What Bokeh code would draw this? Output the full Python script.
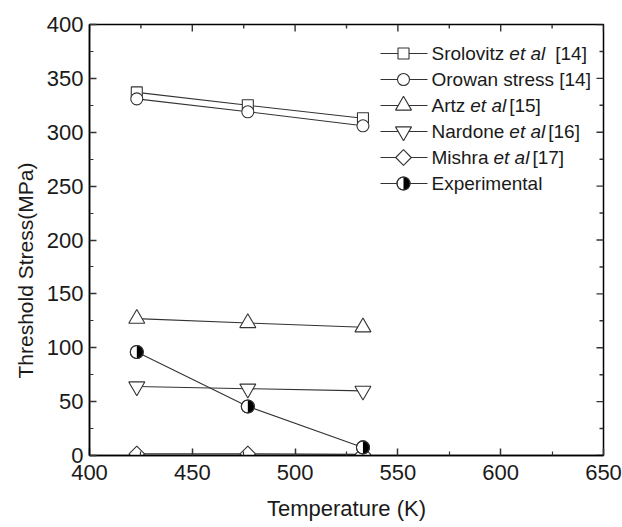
import math
from bokeh.plotting import figure
from bokeh.models import Range1d, Label, FixedTicker, Title
from bokeh.embed import file_html
from bokeh.resources import INLINE

# ---------------- data ----------------
temps = [423, 477, 533]
srolovitz = [337, 325, 313]
orowan = [331, 319, 306]
artz = [127, 123, 119]
nardone = [64, 62, 60]
mishra = [1.5, 1.5, 1.0]
experimental = [96, 45.5, 7.5]

x_ticks = [400, 450, 500, 550, 600, 650]
y_ticks = [0, 50, 100, 150, 200, 250, 300, 350, 400]

x_title = "Temperature (K)"
y_title = "Threshold Stress(MPa)"

# legend text: (segment, style, gap in px before the segment)
legend_rows = [
    [("Srolovitz", "normal", 0), ("et al", "italic", 5), ("[14]", "normal", 10)],
    [("Orowan stress [14]", "normal", 0)],
    [("Artz", "normal", 0), ("et al", "italic", 5), ("[15]", "normal", 3)],
    [("Nardone", "normal", 0), ("et al", "italic", 5), ("[16]", "normal", 3)],
    [("Mishra", "normal", 0), ("et al", "italic", 5), ("[17]", "normal", 3)],
    [("Experimental", "normal", 0)],
]

# ---------------- geometry ----------------
W, H = 622, 527
FL, FR, FT, FB = 89, 603, 24, 455
X0, X1, Y0, Y1 = x_ticks[0], x_ticks[-1], y_ticks[0], y_ticks[-1]
FONT = "Liberation Sans"
INK = "#1a1a1a"
LINE = "#333333"

def dx(px):
    return X0 + (px - FL) / (FR - FL) * (X1 - X0)

def dy(py):
    return Y0 + (FB - py) / (FB - FT) * (Y1 - Y0)

def minors(t):
    return [(a + b) / 2.0 for a, b in zip(t[:-1], t[1:])]

p = figure(width=W, height=H, output_backend="svg", toolbar_location=None,
           x_range=Range1d(X0, X1), y_range=Range1d(Y0, Y1),
           min_border_left=FL, min_border_right=W - FR,
           min_border_top=FT, min_border_bottom=H - FB)
p.grid.visible = False
p.outline_line_color = "black"
p.outline_line_width = 1.5
p.background_fill_color = "white"
p.border_fill_color = "white"

def style_axis(ax):
    ax.major_tick_in = 7
    ax.major_tick_out = 0
    ax.minor_tick_in = 4
    ax.minor_tick_out = 0
    ax.axis_line_color = "black"
    ax.axis_line_width = 1.5
    ax.major_tick_line_color = "#333333"
    ax.major_tick_line_width = 1.5
    ax.minor_tick_line_color = "#333333"
    ax.minor_tick_line_width = 1.2
    ax.major_label_text_font = FONT
    ax.major_label_text_font_size = "22px"
    ax.major_label_text_color = INK
    ax.axis_label_text_font = FONT
    ax.axis_label_text_font_style = "normal"
    ax.axis_label_text_color = INK

p.xaxis.ticker = FixedTicker(ticks=x_ticks, minor_ticks=minors(x_ticks))
p.yaxis.ticker = FixedTicker(ticks=y_ticks, minor_ticks=minors(y_ticks))
style_axis(p.xaxis[0])
style_axis(p.yaxis[0])
p.xaxis.major_label_standoff = 9
p.yaxis.major_label_standoff = 6
p.xaxis.axis_label = x_title
p.xaxis.axis_label_text_font_size = "22px"
p.xaxis.axis_label_standoff = 13

# y title as a side title, starting a little above the bottom of the frame
ytitle = Title(text=y_title, align="left", offset=77, text_font=FONT,
               text_font_size="21px", text_font_style="normal", text_color=INK,
               standoff=14)
p.add_layout(ytitle, "left")

# mirror ticks on top and right edges (inward)
tx = x_ticks + minors(x_ticks)
tl_x = [7 if t in x_ticks else 4 for t in tx]
p.segment(x0=tx, y0=[Y1] * len(tx), x1=tx, y1=[dy(FT + l) for l in tl_x],
          line_color="#333333", line_width=1.4)
ty = y_ticks + minors(y_ticks)
tl_y = [7 if t in y_ticks else 4 for t in ty]
p.segment(x0=[X1] * len(ty), y0=ty, x1=[dx(FR - l) for l in tl_y], y1=ty,
          line_color="#333333", line_width=1.4)

# ---------------- series ----------------
def open_series(ys, marker, size, angle=0.0):
    p.line(temps, ys, line_color=LINE, line_width=1.1)
    p.scatter(temps, ys, marker=marker, size=size, angle=angle,
              fill_color="white", line_color=LINE, line_width=1.1)

open_series(srolovitz, "square", 11)
open_series(orowan, "circle", 12)
open_series(artz, "triangle", 16)
open_series(nardone, "inverted_triangle", 16)
open_series(mishra, "square", 11, angle=math.pi / 4)

def half_circle(xs, ys, size):
    p.scatter(xs, ys, marker="circle", size=size, fill_color="white",
              line_color=LINE, line_width=1.1)
    p.wedge(xs, ys, radius=size / 2.0, radius_units="screen",
            start_angle=-math.pi / 2, end_angle=math.pi / 2,
            fill_color="black", line_color=None)
    p.scatter(xs, ys, marker="circle", size=size, fill_color=None,
              line_color=LINE, line_width=1.1)

p.line(temps, experimental, line_color=LINE, line_width=1.1)
half_circle(temps, experimental, 13)

# ---------------- legend (drawn manually for mixed italic text) ----------------
markers = [("square", 11, 0.0), ("circle", 12, 0.0), ("triangle", 16, 0.0),
           ("inverted_triangle", 16, 0.0), ("square", 11, math.pi / 4), None]

AW = {" ": 278, "S": 667, "r": 333, "o": 556, "l": 222, "v": 500, "i": 222, "t": 278,
      "z": 500, "e": 556, "a": 556, "[": 278, "]": 278, "O": 778, "w": 722, "n": 556,
      "s": 500, "A": 667, "N": 722, "d": 556, "M": 833, "h": 556, "E": 667, "x": 500,
      "p": 556, "m": 833}

def text_w(s, size):
    return sum(AW.get(c, 556) for c in s) / 1000.0 * size

LEG_TOP, LEG_STEP = 53, 26
FS = 19
for i, row in enumerate(legend_rows):
    py = LEG_TOP + LEG_STEP * i
    yy = dy(py)
    p.line([dx(380), dx(427)], [yy, yy], line_color=LINE, line_width=1.1)
    m = markers[i]
    if m is None:
        half_circle([dx(403)], [yy], 13)
    else:
        p.scatter([dx(403)], [yy], marker=m[0], size=m[1], angle=m[2],
                  fill_color="white", line_color=LINE, line_width=1.1)
    off = 0.0
    for seg, style, gap in row:
        off += gap
        p.add_layout(Label(x=dx(431), y=yy, x_offset=off, text=seg,
                           text_font=FONT, text_font_size=f"{FS}px",
                           text_font_style=style, text_color=INK,
                           text_baseline="middle", text_align="left"))
        off += text_w(seg, FS)

open("out.html", "w").write(file_html(p, INLINE))
